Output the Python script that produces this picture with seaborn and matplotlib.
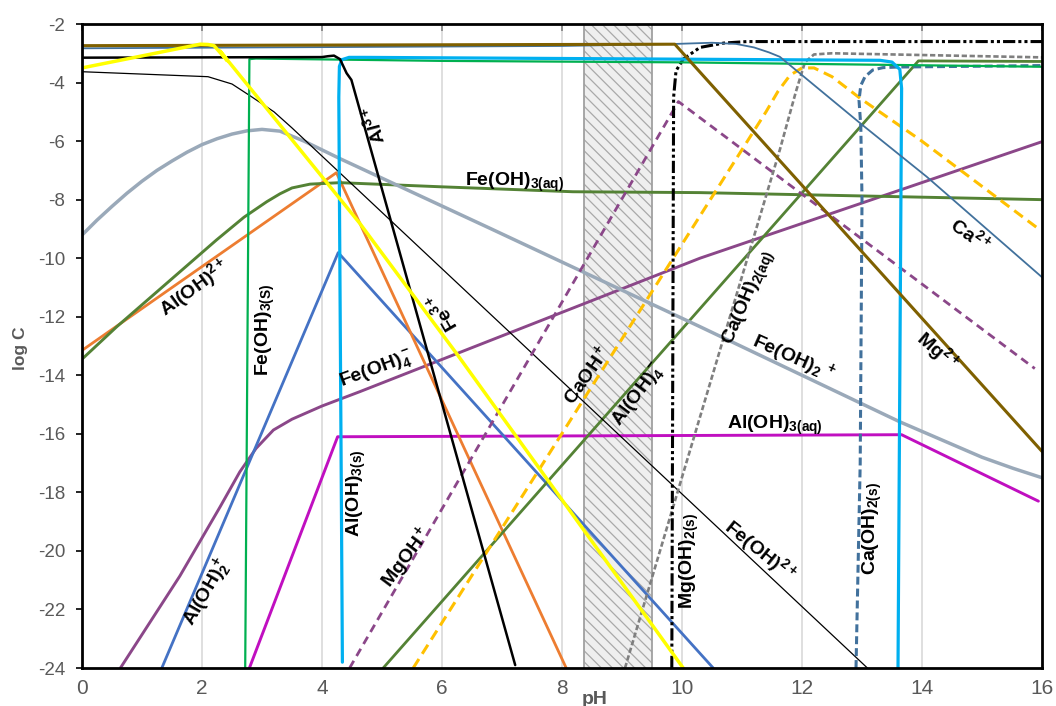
import matplotlib
matplotlib.use("Agg")
import matplotlib.pyplot as plt
import seaborn as sns

# ---------------- species curves (pH, log C) ----------------
mg2_ph = [0, 9.88, 16]
mg2_logc = [-2.74, -2.69, -16.6]

ca2_ph = [0, 8, 9.9, 10.5, 10.9, 11.2, 11.45, 11.63, 12.97, 14.08, 14.97, 16]
ca2_logc = [-2.83, -2.75, -2.68, -2.64, -2.68, -2.8, -2.97, -3.12, -5.39, -7.22, -8.81, -10.65]

mgoh2s_ph = [9.83, 9.86, 9.9, 10.02, 10.3, 10.7, 11.08, 16]
mgoh2s_logc = [-24, -4.5, -3.6, -3.2, -2.8, -2.65, -2.6, -2.6]

caoh2aq_ph = [9.05, 11.63, 11.9, 12.05, 12.2, 12.5, 13.5, 16]
caoh2aq_logc = [-24, -6.3, -4.3, -3.3, -3.04, -3.0, -3.04, -3.14]

caoh2s_ph = [12.9, 12.97, 13.0, 12.98, 12.95, 12.98, 13.05, 13.18, 13.35, 13.6, 16]
caoh2s_logc = [-24, -17, -8, -5.5, -4.6, -4.1, -3.8, -3.57, -3.49, -3.47, -3.42]

al3_ph = [0, 4.0, 4.1, 4.2, 4.3, 4.41, 4.49, 7.22]
al3_logc = [-3.15, -3.13, -3.1, -3.08, -3.2, -3.68, -3.91, -23.9]

aloh3s_ph = [4.34, 4.28, 4.29, 4.33, 4.45, 4.7, 13.3, 13.5, 13.63, 13.66, 13.6]
aloh3s_logc = [-23.8, -4.5, -3.45, -3.22, -3.14, -3.14, -3.24, -3.3, -3.55, -4.2, -24]

feoh3s_ph = [2.72, 2.79, 2.9, 6, 10, 16]
feoh3s_logc = [-24, -3.2, -3.18, -3.26, -3.31, -3.46]

fe3_ph = [0, 1.0, 1.97, 2.1, 2.2, 2.42, 2.3, 4.63, 6.24, 10.02]
fe3_logc = [-3.5, -3.09, -2.69, -2.7, -2.74, -3.25, -2.92, -8.81, -13.25, -24]

feoh2_ph = [0, 2.1, 2.5, 2.8, 3.2, 3.5, 13.09]
feoh2_logc = [-3.63, -3.8, -4.05, -4.45, -5.0, -5.55, -24]

feoh2p_ph = [0, 0.25, 0.5, 0.75, 1.0, 1.25, 1.5, 1.75, 2.0, 2.25, 2.5, 2.75, 3.0,
             3.3, 3.7, 4.3, 6.8, 10.3, 13.63, 15.0, 15.52, 16]
feoh2p_logc = [-9.21, -8.7, -8.23, -7.78, -7.37, -7.0, -6.68, -6.38, -6.12, -5.92,
               -5.76, -5.65, -5.6, -5.66, -6.0, -6.6, -8.98, -12.34, -15.59, -16.8,
               -17.18, -17.5]

feoh3aq_ph = [0, 0.58, 1.5, 2.24, 2.7, 3.08, 3.3, 3.5, 3.8, 4.3, 5.97, 8.18, 10.3, 16]
feoh3aq_logc = [-13.45, -12.34, -10.7, -9.38, -8.6, -8.07, -7.8, -7.6, -7.47, -7.42, -7.56, -7.73, -7.76, -8.0]

aloh4_ph = [5.02, 13.94, 16]
aloh4_logc = [-24, -3.26, -3.28]

aloh2p2_ph = [0, 4.24, 8.07]
aloh2p2_logc = [-13.15, -7.08, -24]

aloh2p_ph = [1.33, 4.27, 10.52]
aloh2p_logc = [-24, -9.81, -24]

feoh4_ph = [0.64, 1.63, 2.3, 2.63, 2.9, 3.19, 3.5, 4.0, 4.63, 10.3, 16]
feoh4_logc = [-24, -20.86, -18.5, -17.3, -16.5, -15.87, -15.5, -15.05, -14.56, -10.0, -6.02]

aloh3aq_ph = [2.79, 4.26, 13.66, 15.94]
aloh3aq_logc = [-24, -16.1, -16.03, -18.3]

mgohp_ph = [4.46, 9.94, 15.88]
mgohp_logc = [-24, -4.65, -13.77]

caohp_ph = [5.52, 11.4, 11.6, 11.8, 12.0, 12.2, 12.5, 12.97, 13.97, 15.97]
caohp_logc = [-24, -5.0, -4.3, -3.75, -3.5, -3.5, -3.8, -4.54, -5.96, -9.04]

# shaded pH window
band_ph = [8.37, 9.5]

x_ticks = list(range(0, 17, 2))
y_ticks = list(range(-24, -1, 2))

# ---------------- style ----------------
sns.set_style("white")
plt.rcParams["font.family"] = ["Liberation Sans", "DejaVu Sans"]
plt.rcParams["axes.unicode_minus"] = False
plt.rcParams["mathtext.fontset"] = "custom"
plt.rcParams["mathtext.rm"] = "Liberation Sans"
plt.rcParams["mathtext.bf"] = "Liberation Sans:bold"
plt.rcParams["mathtext.it"] = "Liberation Sans:italic"
plt.rcParams["mathtext.sf"] = "Liberation Sans"
plt.rcParams["mathtext.default"] = "bf"
plt.rcParams["hatch.linewidth"] = 0.9

fig = plt.figure(figsize=(10.56, 7.06), dpi=100)
ax = fig.add_axes([0.07765, 0.0538, 0.9091, 0.9122])

ax.set_xlim(0, 16)
ax.set_ylim(-24, -2)

# vertical grid lines
for g in x_ticks[1:-1]:
    ax.axvline(g, color="#d9d9d9", lw=1.2, zorder=0)

# hatched pH window with a plain grey outline
ax.axvspan(band_ph[0], band_ph[1], facecolor="#efefef", edgecolor="#a9a9a9",
           hatch="\\\\\\", lw=0, zorder=1)
for edge in band_ph:
    ax.axvline(edge, color="#a0a0a0", lw=1.3, zorder=1.1)

series = [
    (aloh3aq_ph, aloh3aq_logc, "#c00fc0", 2.1, "-"),
    (feoh4_ph, feoh4_logc, "#8b4789", 2.1, "-"),
    (aloh2p_ph, aloh2p_logc, "#4472c4", 2.0, "-"),
    (aloh2p2_ph, aloh2p2_logc, "#ed7d31", 2.0, "-"),
    (feoh3aq_ph, feoh3aq_logc, "#548235", 2.1, "-"),
    (aloh4_ph, aloh4_logc, "#548235", 2.0, "-"),
    (feoh2p_ph, feoh2p_logc, "#9aa9b9", 2.5, "-"),
    (feoh2_ph, feoh2_logc, "#000000", 0.9, "-"),
    (mgohp_ph, mgohp_logc, "#8b4789", 2.0, (0, (3, 2))),
    (caohp_ph, caohp_logc, "#ffc000", 2.2, (0, (3.5, 2))),
    (caoh2aq_ph, caoh2aq_logc, "#7f7f7f", 1.9, (0, (2, 1))),
    (caoh2s_ph, caoh2s_logc, "#41719c", 2.2, (0, (2.6, 1.3))),
    (mgoh2s_ph, mgoh2s_logc, "#000000", 2.2, (0, (4, 1, 1, 1, 1, 1))),
    (feoh3s_ph, feoh3s_logc, "#00b050", 1.6, "-"),
    (aloh3s_ph, aloh3s_logc, "#00b0f0", 2.3, "-"),
    (ca2_ph, ca2_logc, "#41719c", 1.3, "-"),
    (mg2_ph, mg2_logc, "#7f6000", 2.2, "-"),
    (al3_ph, al3_logc, "#000000", 1.8, "-"),
    (fe3_ph, fe3_logc, "#ffff00", 2.5, "-"),
]

for i, (xs, ys, col, lw, ls) in enumerate(series):
    sns.lineplot(x=xs, y=ys, ax=ax, color=col, lw=lw, linestyle=ls,
                 sort=False, estimator=None, zorder=2 + i * 0.01)

# species labels: (text, pH, log C, rotation, ha, va)
labels = [
    (r"Al$^{3+}$", 4.85, -5.45, 105, "center", "center"),
    (r"Fe$^{3+}$", 6.0, -11.84, 120, "center", "center"),
    (r"Fe(OH)$_{3(aq)}$", 6.38, -7.53, 0, "left", "baseline"),
    (r"Al(OH)$_{3(aq)}$", 10.75, -15.84, 0, "left", "baseline"),
    (r"Al(OH)$^{2+}$", 1.87, -11.02, 36, "center", "center"),
    (r"Fe(OH)$_{3(S)}$", 3.05, -12.45, 90, "center", "center"),
    (r"Fe(OH)$_4^-$", 4.9, -13.82, 20, "center", "center"),
    (r"Al(OH)$_{3(s)}$", 4.58, -18.02, 90, "center", "center"),
    (r"Al(OH)$_2^+$", 2.08, -21.4, 60, "center", "center"),
    (r"MgOH$^+$", 5.4, -20.21, 53, "center", "center"),
    (r"CaOH$^+$", 8.4, -13.96, 55, "center", "center"),
    (r"Al(OH)$_4^-$", 9.28, -14.67, 53, "center", "center"),
    (r"Mg(OH)$_{2(s)}$", 10.13, -20.35, 90, "center", "center"),
    (r"Ca(OH)$_{2(aq)}$", 11.12, -11.36, 67, "center", "center"),
    (r"Fe(OH)$_2\,^+$", 11.85, -13.4, -24, "center", "center"),
    (r"Fe(OH)$^{2+}$", 11.3, -19.97, -39, "center", "center"),
    (r"Ca(OH)$_{2(s)}$", 13.18, -19.22, 90, "center", "center"),
    (r"Mg$^{2+}$", 14.25, -13.15, -41, "center", "center"),
    (r"Ca$^{2+}$", 14.82, -9.2, -35, "center", "center"),
]
for txt, px, py, rot, ha, va in labels:
    ax.text(px, py, txt, rotation=rot, ha=ha, va=va, fontsize=14,
            fontweight="bold", color="black", zorder=5)

# axes frame and ticks
for s in ax.spines.values():
    s.set_color("black")
    s.set_linewidth(2.0)
    s.set_zorder(6)

ax.set_xticks(x_ticks)
ax.set_yticks(y_ticks)
ax.set_xticklabels([str(v) for v in x_ticks])
ax.set_yticklabels([str(v) for v in y_ticks])
ax.tick_params(axis="x", which="both", bottom=False, top=True, direction="in",
               length=5, width=1.2, color="#7f7f7f", labelsize=15,
               labelcolor="#595959", pad=8)
ax.tick_params(axis="y", left=True, direction="out", length=4, width=1.2,
               color="black", labelsize=13.5, labelcolor="#595959", pad=8)
ax.set_xlabel("")
ax.set_ylabel("")

fig.text(20 / 1056, 1 - 348 / 706, "log C", rotation=90, ha="center",
         va="center", fontsize=12.5, fontweight="bold", color="#595959")
fig.text(595 / 1056, 1 - 691 / 706, "pH", ha="center", va="top",
         fontsize=14, fontweight="bold", color="#595959")

fig.savefig("out.png", dpi=100)
